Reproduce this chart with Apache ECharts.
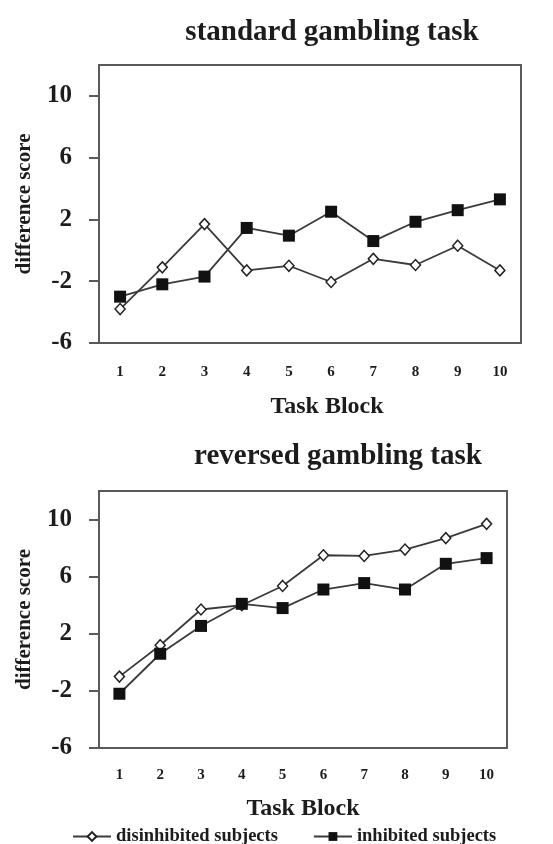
<!DOCTYPE html>
<html>
<head>
<meta charset="utf-8">
<script src="https://cdn.jsdelivr.net/npm/echarts@6/dist/echarts.min.js"></script>
<style>html,body{margin:0;padding:0;background:#fff}#c{width:553px;height:844px}</style>
</head>
<body>
<div id="c"></div>
<script>
const blocks = ['1','2','3','4','5','6','7','8','9','10'];
const yTicks = [-6, -2, 2, 6, 10];
const stdDisinhibited = [-3.8, -1.1, 1.7, -1.3, -1.0, -2.05, -0.55, -0.95, 0.3, -1.3];
const stdInhibited = [-3.0, -2.2, -1.7, 1.45, 0.95, 2.5, 0.6, 1.85, 2.6, 3.3];
const revDisinhibited = [-1.0, 1.2, 3.7, 4.0, 5.35, 7.5, 7.45, 7.9, 8.7, 9.7];
const revInhibited = [-2.2, 0.6, 2.55, 4.1, 3.8, 5.1, 5.55, 5.1, 6.9, 7.3];
const titles = ['standard gambling task', 'reversed gambling task'];
const seriesNames = ['disinhibited subjects', 'inhibited subjects'];

const FONT = 'Liberation Serif';
const TXT = '#1c1c1c';
const AX = '#5a5a5a';

const chart = echarts.init(document.getElementById('c'), null, {renderer: 'canvas'});

function xAxis(idx, margin, nameGap, nameShift) {
  return {
    type: 'category', gridIndex: idx, data: blocks, boundaryGap: true,
    axisLine: {show: true, onZero: false, lineStyle: {color: AX, width: 2}},
    axisTick: {show: false},
    axisLabel: {margin: margin, fontFamily: FONT, fontWeight: 'bold', fontSize: 15, color: TXT},
    name: 'Task Block', nameLocation: 'middle', nameGap: nameGap,
    nameTextStyle: {fontFamily: FONT, fontWeight: 'bold', fontSize: 24, color: TXT, padding: [0, 0, 0, nameShift]}
  };
}
function yAxis(idx) {
  return {
    type: 'value', gridIndex: idx, min: -6, max: 12,
    axisLine: {show: true, onZero: false, lineStyle: {color: AX, width: 2}},
    axisTick: {show: true, length: 10, inside: false, lineStyle: {color: AX, width: 2}, customValues: yTicks},
    axisLabel: {fontFamily: FONT, fontWeight: 'bold', fontSize: 25, color: TXT, margin: 27, customValues: yTicks},
    splitLine: {show: false},
    name: 'difference score', nameLocation: 'middle', nameGap: 64, nameRotate: 90,
    nameTextStyle: {fontFamily: FONT, fontWeight: 'bold', fontSize: 21, color: TXT}
  };
}
function lineSeries(name, data, idx, filled) {
  return {
    name: name, type: 'line', xAxisIndex: idx, yAxisIndex: idx, data: data,
    symbol: filled ? 'rect' : 'diamond', symbolSize: filled ? 12 : [10, 11],
    lineStyle: {color: '#3a3a3a', width: 1.8},
    itemStyle: {color: filled ? '#111' : '#fff', borderColor: '#222', borderWidth: filled ? 0 : 1.5},
    emphasis: {disabled: true}, animation: false
  };
}

chart.setOption({
  animation: false,
  title: [
    {text: titles[0], left: 327, top: 13, textAlign: 'center',
     textStyle: {fontFamily: FONT, fontWeight: 'bold', fontSize: 29, color: TXT}},
    {text: titles[1], left: 333, top: 437, textAlign: 'center',
     textStyle: {fontFamily: FONT, fontWeight: 'bold', fontSize: 29, color: TXT}}
  ],
  grid: [
    {left: 99, right: 32, top: 65, bottom: 501, show: true, borderColor: AX, borderWidth: 2, containLabel: false},
    {left: 99, right: 46, top: 491, bottom: 96, show: true, borderColor: AX, borderWidth: 2, containLabel: false}
  ],
  legend: {
    top: 827, left: 72, itemWidth: 38, itemHeight: 11, itemGap: 35, padding: 0,
    data: seriesNames,
    textStyle: {fontFamily: FONT, fontWeight: 'bold', fontSize: 18.5, color: TXT}
  },
  xAxis: [xAxis(0, 22, 52, 34), xAxis(1, 20, 49, 0)],
  yAxis: [yAxis(0), yAxis(1)],
  series: [
    lineSeries(seriesNames[0], stdDisinhibited, 0, false),
    lineSeries(seriesNames[1], stdInhibited, 0, true),
    lineSeries(seriesNames[0], revDisinhibited, 1, false),
    lineSeries(seriesNames[1], revInhibited, 1, true)
  ]
});
</script>
</body>
</html>
